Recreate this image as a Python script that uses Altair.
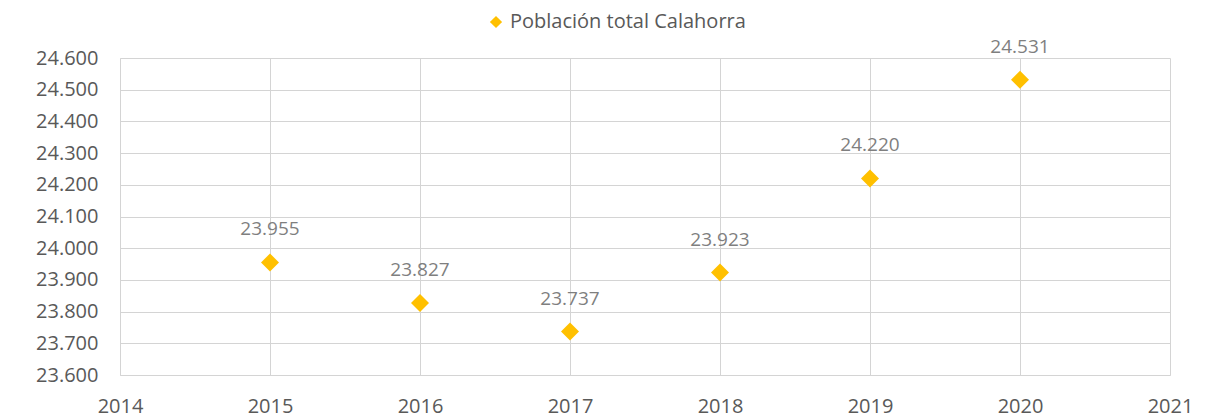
import altair as alt
import pandas as pd

years = [2015, 2016, 2017, 2018, 2019, 2020]
population = [23955, 23827, 23737, 23923, 24220, 24531]
series_name = "Población total Calahorra"
x_ticks = [2014, 2015, 2016, 2017, 2018, 2019, 2020, 2021]
y_ticks = [23600, 23700, 23800, 23900, 24000, 24100, 24200, 24300, 24400, 24500, 24600]

df = pd.DataFrame({"year": years, "pop": population, "serie": [series_name] * len(years)})

FONT = "Open Sans"
GRID = "#d4d4d4"
GOLD = "#FFC000"

x = alt.X("year:Q", scale=alt.Scale(domain=[2014, 2021], nice=False, zero=False),
          axis=alt.Axis(values=x_ticks, format="d", title=None, grid=True, gridColor=GRID,
                        domainColor=GRID, ticks=False, labelPadding=21, labelFontSize=20,
                        labelColor="#595959", labelFont=FONT, labelBaseline="top",
                        labelFlush=False, labelOverlap=False))
y = alt.Y("pop:Q", scale=alt.Scale(domain=[23600, 24600], nice=False, zero=False),
          axis=alt.Axis(values=y_ticks, title=None, grid=True, gridColor=GRID,
                        domainColor=GRID, ticks=False, labelPadding=22, labelFontSize=20,
                        labelColor="#595959", labelFont=FONT, labelFlush=False,
                        labelOverlap=False,
                        labelExpr="replace(format(datum.value, ','), ',', '.')"))

base = alt.Chart(df).encode(x=x, y=y)

points = base.mark_point(shape="diamond", filled=True, size=324, opacity=1).encode(
    color=alt.Color("serie:N", scale=alt.Scale(domain=[series_name], range=[GOLD]),
                    legend=alt.Legend(title=None, orient="none", legendX=366, legendY=-46,
                                      symbolType="diamond", symbolSize=150, labelFontSize=20,
                                      labelFont=FONT, labelColor="#595959", symbolOpacity=1,
                                      labelOffset=4, labelLimit=600)),
)

labels = base.transform_calculate(
    lbl="replace(format(datum.pop, ','), ',', '.')"
).mark_text(font=FONT, fontSize=19, color="#7f7f7f", dy=-33, baseline="middle").encode(
    text="lbl:N"
)

chart = alt.layer(points, labels).properties(
    width=1050, height=317,
    autosize=alt.AutoSizeParams(type="none"),
    padding={"left": 112, "top": 50, "right": 37, "bottom": 43},
).configure_view(stroke=None)

chart.save("out.html", embed_options={"renderer": "svg", "actions": False})
